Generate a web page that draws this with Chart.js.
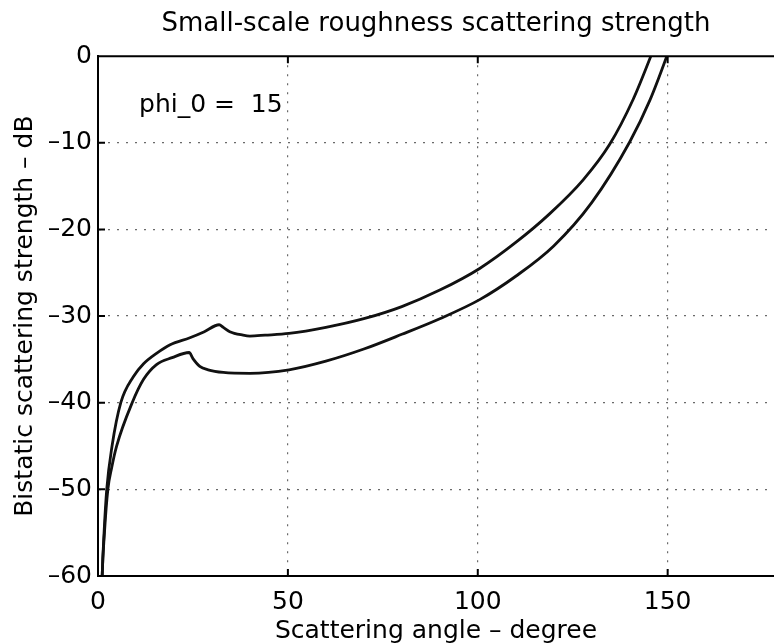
<!DOCTYPE html>
<html>
<head>
<meta charset="utf-8">
<script src="https://cdn.jsdelivr.net/npm/chart.js@4/dist/chart.umd.min.js"></script>
<style>
  html, body { margin: 0; padding: 0; background: #fff; }
  #wrap { width: 774px; height: 644px; }
</style>
</head>
<body>
<div id="wrap"><canvas id="myChart" width="774" height="644"></canvas></div>
<script>
// scattering angle (deg) and bistatic strength (dB)
var angleUpper = [1.0, 1.1, 1.6, 2.3, 3.7, 6.0, 9.3, 12, 15.4, 19, 24.2, 28, 31.9, 33, 34.7, 38.2, 40, 44, 50.3, 60, 70, 80, 90, 100.5, 110, 118.9, 127.7, 134.7, 140.9, 145.3, 147.5];
var levelUpper = [-62, -60, -55, -50, -45, -40, -37, -35.5, -34.3, -33.3, -32.5, -31.8, -31.0, -31.3, -31.8, -32.2, -32.3, -32.2, -32.0, -31.3, -30.3, -28.9, -27.0, -24.5, -21.5, -18.2, -14.3, -10.2, -5.0, -0.3, 2.3];

var angleLower = [1.0, 1.1, 1.7, 2.6, 3.6, 4.9, 9.0, 12, 15.4, 19.5, 24.0, 25, 26.8, 29, 33, 40, 50.3, 60, 70, 80, 90, 100.5, 110, 120, 130, 140, 145.3, 149.6, 151.5];
var levelLower = [-62, -60, -55, -50, -47.5, -45, -40, -37.3, -35.6, -34.8, -34.2, -34.9, -35.8, -36.2, -36.5, -36.6, -36.2, -35.2, -33.8, -32.1, -30.3, -28.1, -25.4, -21.9, -16.9, -9.9, -5.1, -0.2, 2.2];

var xRange = [0, 178];
var yRange = [-60, 0];
var xStep = 50;
var yStep = 10;

var titleText = 'Small-scale roughness scattering strength';
var xTitle = 'Scattering angle \u2013 degree';
var yTitle = 'Bistatic scattering strength \u2013 dB';
var noteText = 'phi_0 =  15';
var noteAt = [10.8, -6.4];

var fontFamily = '"DejaVu Sans", "Liberation Sans", sans-serif';
var myMainChart;

function to_points(xs, ys){
    return xs.map(function(x, i){ return {x: x, y: ys[i]}; });
}

function make_dataset(label, xs, ys){
    return {
        label: label,
        data: to_points(xs, ys),
        borderColor: '#111',
        borderWidth: 2.8,
        pointRadius: 0,
        fill: false,
        cubicInterpolationMode: 'monotone',
        clip: 0
    };
}

// MATLAB style box: top edge, inward tick marks, and the text note
var frameExtras = {
    id: 'frameExtras',
    afterDatasetsDraw: function(chart){
        var ctx = chart.ctx;
        var a = chart.chartArea;
        var x = chart.scales.x;
        var y = chart.scales.y;
        ctx.save();
        ctx.strokeStyle = '#000';
        ctx.lineWidth = 2;
        ctx.beginPath();
        ctx.moveTo(a.left, a.top);
        ctx.lineTo(a.right, a.top);
        x.ticks.forEach(function(t){
            var px = x.getPixelForValue(t.value);
            ctx.moveTo(px, a.bottom); ctx.lineTo(px, a.bottom - 7);
            ctx.moveTo(px, a.top); ctx.lineTo(px, a.top + 7);
        });
        y.ticks.forEach(function(t){
            var py = y.getPixelForValue(t.value);
            ctx.moveTo(a.left, py); ctx.lineTo(a.left + 7, py);
        });
        ctx.stroke();
        ctx.fillStyle = '#000';
        ctx.font = '25px ' + fontFamily;
        ctx.textBaseline = 'alphabetic';
        ctx.textAlign = 'left';
        ctx.fillText(noteText, x.getPixelForValue(noteAt[0]), y.getPixelForValue(noteAt[1]));
        ctx.restore();
    }
};

function gridColor(ctx, edges){
    if (ctx.tick && edges.indexOf(ctx.tick.value) !== -1) return 'rgba(0,0,0,0)';
    return '#6a6a6a';
}

function Drawgraphonfront(){
    var canvas = document.getElementById('myChart');
    var ctx = canvas.getContext('2d');
    var tickFont = {family: fontFamily, size: 25};

    myMainChart = new Chart(ctx, {
        type: 'line',
        data: {
            datasets: [
                make_dataset('upper', angleUpper, levelUpper),
                make_dataset('lower', angleLower, levelLower)
            ]
        },
        plugins: [frameExtras],
        options: {
            responsive: false,
            animation: false,
            layout: { padding: 0 },
            plugins: {
                legend: { display: false },
                tooltip: { enabled: false },
                title: {
                    display: true,
                    text: titleText,
                    fullSize: false,
                    color: '#000',
                    font: {family: fontFamily, size: 26, weight: 'normal'},
                    padding: {top: 9, bottom: 16}
                }
            },
            scales: {
                x: {
                    type: 'linear',
                    min: xRange[0],
                    max: xRange[1],
                    afterFit: function(s){ s.height = 68; },
                    ticks: {
                        stepSize: xStep,
                        includeBounds: false,
                        maxRotation: 0,
                        color: '#000',
                        font: tickFont,
                        padding: 11
                    },
                    grid: {
                        drawTicks: false,
                        lineWidth: 1.2,
                        color: function(c){ return gridColor(c, [0]); }
                    },
                    border: { display: true, color: '#000', width: 2, dash: [2, 7] },
                    title: {
                        display: true,
                        text: xTitle,
                        color: '#000',
                        font: {family: fontFamily, size: 25, lineHeight: 1},
                        padding: {top: 0, bottom: 0}
                    }
                },
                y: {
                    type: 'linear',
                    min: yRange[0],
                    max: yRange[1],
                    afterFit: function(s){ s.width = 98; },
                    ticks: {
                        stepSize: yStep,
                        color: '#000',
                        font: tickFont,
                        padding: 6,
                        callback: function(v){ return String(v).replace('-', '\u2013'); }
                    },
                    grid: {
                        drawTicks: false,
                        lineWidth: 1.2,
                        color: function(c){ return gridColor(c, [-60, 0]); }
                    },
                    border: { display: true, color: '#000', width: 2, dash: [2, 7] },
                    title: {
                        display: true,
                        text: yTitle,
                        color: '#000',
                        font: {family: fontFamily, size: 25, lineHeight: 1},
                        padding: {top: 13, bottom: 0}
                    }
                }
            }
        }
    });
}

document.addEventListener('readystatechange', function(event){
    if (event.target.readyState === 'complete') {
        Drawgraphonfront();
    }
});
</script>
</body>
</html>
